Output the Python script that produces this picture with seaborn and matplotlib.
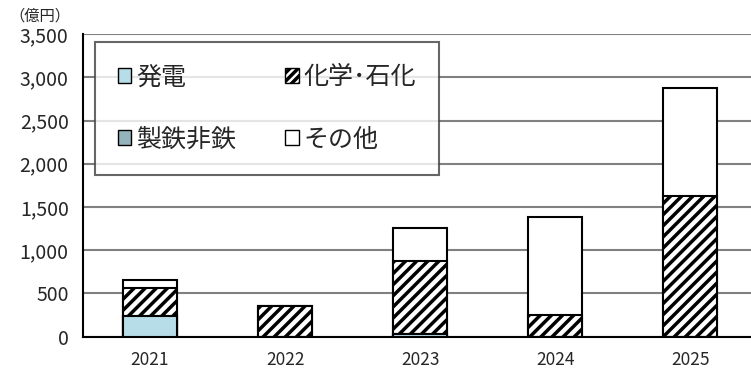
import numpy as np
import pandas as pd
import seaborn as sns
import matplotlib.pyplot as plt
from matplotlib.patches import Patch

years = ['2021', '2022', '2023', '2024', '2025']
power = [240, 0, 30, 0, 0]       # 発電
steel = [0, 0, 0, 0, 0]          # 製鉄非鉄
chem = [325, 358, 845, 250, 1630]  # 化学・石化
other = [90, 0, 385, 1130, 1245]   # その他

sns.set_style('white')
plt.rcParams['font.family'] = ['Noto Sans CJK JP', 'DejaVu Sans']
plt.rcParams['hatch.linewidth'] = 2.5

# cumulative heights, drawn from the top layer down
c1 = np.array(power)
c2 = c1 + np.array(steel)
c3 = c2 + np.array(chem)
c4 = c3 + np.array(other)

fig = plt.figure(figsize=(7.51, 3.73), dpi=100)
ax = fig.add_axes([0.1099, 0.0973, 0.8901, 0.8115])

layers = [
    (c4, 'white', None),
    (c3, 'white', '///'),
    (c2, '#95B3BA', None),
    (c1, '#B7DDE8', None),
]
for vals, fc, hatch in layers:
    df = pd.DataFrame({'year': years, 'v': vals})
    sns.barplot(data=df, x='year', y='v', ax=ax, color=fc, width=0.4,
                edgecolor='black', linewidth=1.5, hatch=hatch, saturation=1, zorder=3)

ax.set_xlim(-0.5, 4.45)
ax.set_ylim(0, 3500)
ax.set_yticks(np.arange(0, 3501, 500))
ax.set_yticklabels([f'{v:,}' for v in range(0, 3501, 500)], fontsize=14)
ax.set_xlabel('')
ax.set_ylabel('')
ax.tick_params(axis='x', labelsize=12.5, pad=10, length=0)
ax.tick_params(axis='y', length=0, pad=10)
ax.set_xticks(np.arange(0.5, 4.0, 1.0), minor=True)
ax.tick_params(axis='x', which='minor', direction='in', length=5, width=1.2, color='black')
ax.yaxis.grid(True, color='#808080', linewidth=1.5, zorder=0)
ax.set_axisbelow(True)
sns.despine(ax=ax, top=True, right=True)
for s in ['left', 'bottom']:
    ax.spines[s].set_color('black')
    ax.spines[s].set_linewidth(1.5)

fig.text(0.012, 0.945, '（億円）', fontsize=11)

handles = [
    Patch(facecolor='#B7DDE8', edgecolor='black', label='発電'),
    Patch(facecolor='#95B3BA', edgecolor='black', label='製鉄非鉄'),
    Patch(facecolor='white', edgecolor='black', hatch='////', label='化学･石化'),
    Patch(facecolor='white', edgecolor='black', label='その他'),
]
leg = ax.legend(handles=handles, ncol=2, loc='upper left',
                bbox_to_anchor=(0.0187, 0.544, 0.514, 0.43), mode='expand',
                borderaxespad=0, fontsize=18, fancybox=False, frameon=True,
                edgecolor='#404040', handlelength=0.55, handleheight=0.55,
                handletextpad=0.2, labelspacing=1.45, borderpad=0.9,
                columnspacing=2.0)
leg.get_frame().set_linewidth(1.5)
leg.set_zorder(5)

fig.savefig('out.png', dpi=100)
